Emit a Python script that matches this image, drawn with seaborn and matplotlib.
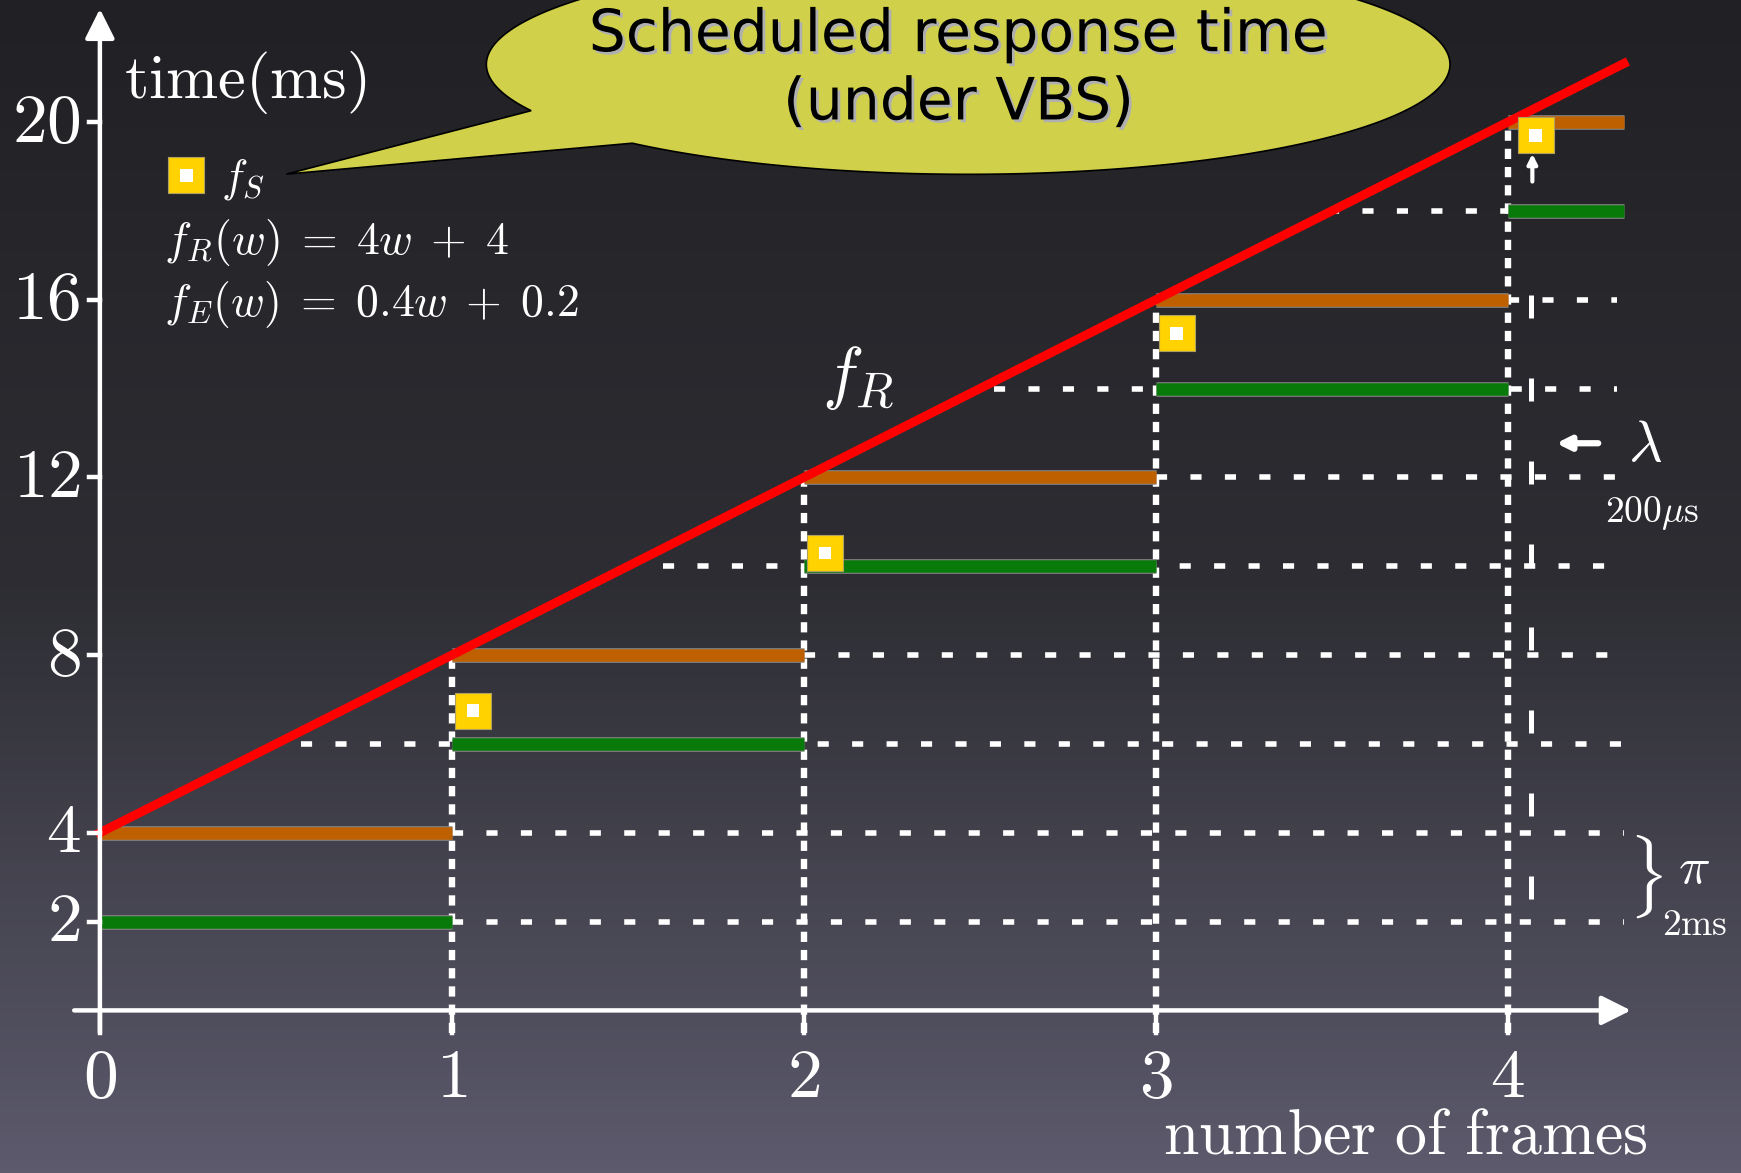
import numpy as np
import pandas as pd
import matplotlib
matplotlib.use("Agg")
import matplotlib.pyplot as plt
import matplotlib.patheffects as pe
from matplotlib.patches import Polygon
from matplotlib.colors import LinearSegmentedColormap
import seaborn as sns

# ---- data ----
frames = [0, 1, 2, 3, 4]
x_end = 4.33                      # x axis arrow stops here
deadline = [4, 8, 12, 16, 20]     # orange bars, f_R(w)
finish = [2, 6, 10, 14, 18]       # green bars, f_R(w) - pi
fs_x = [1.06, 2.06, 3.06, 4.08]   # yellow squares f_S
fs_y = [6.75, 10.3, 15.25, 19.7]
red_x = [0, 4.33]                 # f_R(w) = 4w + 4
red_y = [4, 21.32]
yticks = [2, 4, 8, 12, 16, 20]

guide_y = [2, 4, 6, 8, 10, 12, 14, 16, 18]
guide_start = [1, 1, 0.57, 2, 1.6, 3, 2.54, 4, 3.49]
guide_stop = [4.33, 4.33, 4.33, 4.33, 4.33, 4.33, 4.31, 4.31, 4.0]

plt.rcParams['mathtext.fontset'] = 'cm'

fig = plt.figure(figsize=(17.41, 11.73), dpi=100)
ax = fig.add_axes([0, 0, 1, 1])
xlim = (-0.2838, 4.6628)
ylim = (-3.661, 22.75)
ax.set_xlim(*xlim)
ax.set_ylim(*ylim)
ax.axis('off')

# background gradient
bg = LinearSegmentedColormap.from_list('bg', ['#212125', '#2d2d33', '#5c5a6c'])
ax.imshow(np.linspace(0, 1, 256).reshape(-1, 1), cmap=bg, aspect='auto',
          extent=[xlim[0], xlim[1], ylim[0], ylim[1]], origin='upper', zorder=0)

W = 'white'

# dotted guides
for y, a, b in zip(guide_y, guide_start, guide_stop):
    ax.plot([a, b], [y, y], color=W, lw=4.0, dashes=(2.0, 4.2), solid_capstyle='butt', zorder=2)

# vertical dashed lines at each frame
for w, top in zip(frames[1:], deadline[1:]):
    ax.plot([w, w], [-0.5, top], color=W, lw=4.6, dashes=(1.6, 1.25), zorder=2)

# long dashes at x ~ 4.07
ax.plot([4.066, 4.066], [2.5, 17.1], color=W, lw=3.6, dashes=(4.6, 12.0), zorder=2)
ax.annotate('', xy=(4.07, 19.35), xytext=(4.07, 18.6),
            arrowprops=dict(arrowstyle='-|>', color=W, lw=3, mutation_scale=14), zorder=3)

# bars
bar_fx = [pe.Stroke(linewidth=10.5, foreground='#8a8a8a'), pe.Normal()]
for w, d, f in zip(frames, deadline, finish):
    end = w + 1 if w < 4 else x_end
    ax.plot([w, end], [d, d], color='#bf6000', lw=9, solid_capstyle='butt',
            path_effects=bar_fx, zorder=3)
    ax.plot([w, end], [f, f], color='#087a0a', lw=9, solid_capstyle='butt',
            path_effects=bar_fx, zorder=3)

# red line f_R
sns.lineplot(x=red_x, y=red_y, color='#ff0000', lw=6.5, ax=ax, zorder=4)

# axes with arrows
ax.annotate('', xy=(x_end + 0.02, 0), xytext=(-0.073, 0),
            arrowprops=dict(arrowstyle='-|>', color=W, lw=3.2, mutation_scale=45,
                            shrinkA=0, shrinkB=0), zorder=5)
ax.annotate('', xy=(0, 22.55), xytext=(0, -0.5),
            arrowprops=dict(arrowstyle='-|>', color=W, lw=3.2, mutation_scale=45,
                            shrinkA=0, shrinkB=0), zorder=5)
for w in frames:
    ax.plot([w, w], [0, -0.5], color=W, lw=3.2, zorder=5)
    ax.text(w, -1.5, r'$%d$' % w, color=W, fontsize=50, ha='center', va='center')
for y in yticks:
    ax.plot([-0.03, 0], [y, y], color=W, lw=3.2, zorder=5)
    ax.text(-0.055, y, r'$%d$' % y, color=W, fontsize=50, ha='right', va='center')

# yellow squares f_S
sq = pd.DataFrame({'x': fs_x + [0.246], 'y': fs_y + [18.8]})
sns.scatterplot(data=sq, x='x', y='y', marker='s', s=640, color='#ffd200',
                edgecolor='#b0a060', linewidth=0.8, ax=ax, zorder=6, legend=False)
sns.scatterplot(data=sq, x='x', y='y', marker='s', s=85, color='white',
                edgecolor='none', ax=ax, zorder=7, legend=False)

# texts
ax.text(0.069, 20.9, r'$\mathrm{time(ms)}$', color=W, fontsize=45, va='center', ha='left')
ax.text(0.345, 18.7, r'$f_S$', color=W, fontsize=32, va='center', ha='left')
ax.text(0.183, 17.3, r'$f_R(w)\;=\;4w\;+\;4$', color=W, fontsize=33, va='center', ha='left')
ax.text(0.183, 15.9, r'$f_E(w)\;=\;0.4w\;+\;0.2$', color=W, fontsize=33, va='center', ha='left')
ax.text(2.155, 14.25, r'$f_R$', color=W, fontsize=50, va='center', ha='center')
ax.text(3.71, -3.22, r'$\mathrm{number\ of\ frames}$', color=W, fontsize=46,
        va='baseline', ha='center')

ax.annotate('', xy=(4.13, 12.77), xytext=(4.265, 12.77),
            arrowprops=dict(arrowstyle='-|>', color=W, lw=4.5, mutation_scale=20))
ax.text(4.39, 12.75, r'$\lambda$', color=W, fontsize=42, va='center', ha='center')
ax.text(4.41, 11.2, r'$200\mu\mathrm{s}$', color=W, fontsize=27, va='center', ha='center')
ax.text(4.39, 3.0, r'$\}$', color=W, fontsize=50, va='center', ha='center')
ax.text(4.53, 3.2, r'$\pi$', color=W, fontsize=38, va='center', ha='center')
ax.text(4.53, 1.93, r'$2\mathrm{ms}$', color=W, fontsize=27, va='center', ha='center')

# speech bubble
cx, cy, a, b = 2.467, 21.3, 1.369, 2.475
t1, t2 = np.deg2rad(204.9), np.deg2rad(225.8)
t = np.linspace(t2, t1 + 2 * np.pi, 300)
pts = np.column_stack([cx + a * np.cos(t), cy + b * np.sin(t)])
pts = np.vstack([pts, [0.53, 18.83]])
ax.add_patch(Polygon(pts, closed=True, facecolor='#d0d04a', edgecolor='black',
                     lw=1.2, zorder=8))
ax.text(2.44, 21.2, 'Scheduled response time\n(under VBS)', color='black',
        fontsize=42, family='DejaVu Sans', ha='center', va='center', linespacing=1.25,
        zorder=9,
        path_effects=[pe.withSimplePatchShadow(offset=(2, -2), shadow_rgbFace='#b0b0b0',
                                               alpha=1)])

fig.savefig('out.png', dpi=100)
